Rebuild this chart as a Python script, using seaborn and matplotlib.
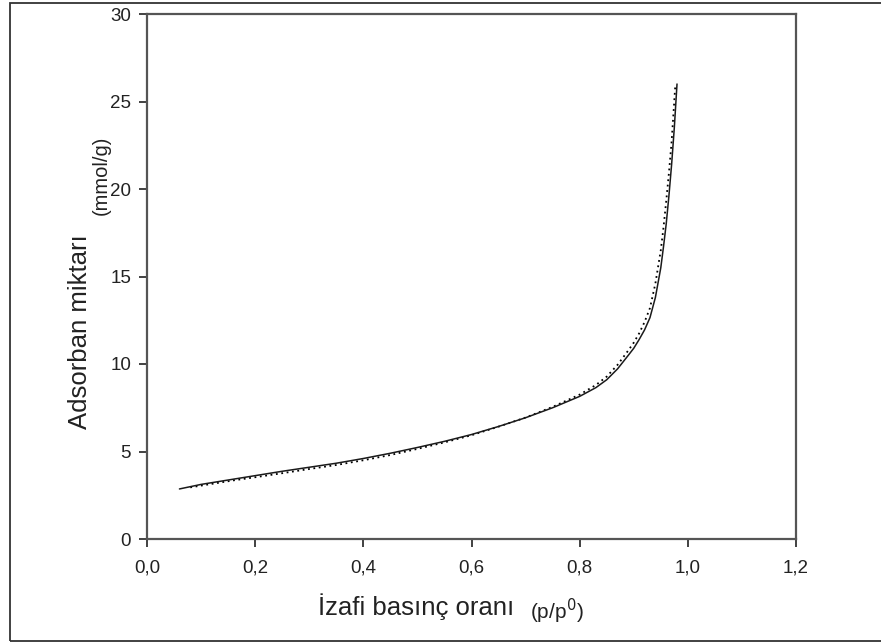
import matplotlib
matplotlib.use("Agg")
import matplotlib.pyplot as plt
from matplotlib.patches import Rectangle
import seaborn as sns
import pandas as pd

# Adsorption branch (solid line)
ads_p = [0.06, 0.10, 0.15, 0.20, 0.25, 0.30, 0.35, 0.40, 0.45, 0.50, 0.55,
         0.60, 0.65, 0.70, 0.75, 0.80, 0.83, 0.85, 0.87, 0.89, 0.90, 0.91,
         0.92, 0.93, 0.94, 0.95, 0.955, 0.96, 0.965, 0.97, 0.975, 0.98]
ads_q = [2.86, 3.12, 3.37, 3.62, 3.87, 4.10, 4.33, 4.60, 4.90, 5.23, 5.58,
         5.97, 6.43, 6.93, 7.50, 8.15, 8.65, 9.10, 9.72, 10.50, 10.90, 11.40,
         11.95, 12.65, 13.80, 15.50, 16.70, 18.00, 19.60, 21.40, 23.50, 26.00]

# Desorption branch (dotted line)
des_p = [0.08, 0.12, 0.16, 0.20, 0.25, 0.30, 0.35, 0.40, 0.45, 0.50, 0.55,
         0.60, 0.65, 0.70, 0.75, 0.80, 0.83, 0.85, 0.87, 0.89, 0.90, 0.91,
         0.92, 0.93, 0.94, 0.95, 0.955, 0.96, 0.965, 0.97, 0.977]
des_q = [2.95, 3.15, 3.35, 3.53, 3.76, 4.00, 4.23, 4.50, 4.80, 5.15, 5.52,
         5.93, 6.42, 6.94, 7.55, 8.25, 8.80, 9.28, 9.95, 10.78, 11.22, 11.75,
         12.40, 13.20, 14.60, 16.50, 17.80, 19.30, 20.90, 22.70, 26.00]

x_ticks = [0.0, 0.2, 0.4, 0.6, 0.8, 1.0, 1.2]
x_tick_labels = ["0,0", "0,2", "0,4", "0,6", "0,8", "1,0", "1,2"]
y_ticks = [0, 5, 10, 15, 20, 25, 30]

sns.set_style("white")
plt.rcParams["font.family"] = ["Liberation Sans", "DejaVu Sans"]

ads = pd.DataFrame({"p": ads_p, "q": ads_q})
des = pd.DataFrame({"p": des_p, "q": des_q})

fig = plt.figure(figsize=(8.81, 6.44), dpi=100)
ax = fig.add_axes([147 / 881, 105 / 644, 649 / 881, 525 / 644])

sns.lineplot(data=des, x="p", y="q", ax=ax, color="black", lw=1.3,
             linestyle=(0, (1, 2)), sort=False)
sns.lineplot(data=ads, x="p", y="q", ax=ax, color="#1a1a1a", lw=1.1, sort=False)

ax.set_xlim(0, 1.2)
ax.set_ylim(0, 30)
ax.set_xticks(x_ticks)
ax.set_xticklabels(x_tick_labels)
ax.set_yticks(y_ticks)
ax.set_xlabel("")
ax.set_ylabel("")

spine_col = "#555555"
for s in ax.spines.values():
    s.set_visible(True)
    s.set_color(spine_col)
    s.set_linewidth(1.6)

ax.tick_params(axis="both", direction="out", length=5.5, width=1.3,
               color="#333333", labelsize=13.5, labelcolor="#222222",
               bottom=True, left=True, top=False, right=False)
ax.tick_params(axis="x", pad=9)
ax.tick_params(axis="y", pad=6)

# Axis titles with smaller unit annotations
fig.text(318 / 881, 1 - 607 / 644, "İzafi basınç oranı", fontsize=18.5,
         color="#222222", ha="left", va="center")
fig.text(530 / 881, 1 - 611 / 644, r"(p/p$^{0}$)", fontsize=15,
         color="#222222", ha="left", va="center")
fig.text(80 / 881, 1 - 332 / 644, "Adsorban miktarı", fontsize=18.5,
         color="#222222", ha="center", va="center", rotation=90)
fig.text(101 / 881, 1 - 175 / 644, "(mmol/g)", fontsize=14.5,
         color="#222222", ha="center", va="center", rotation=90)

# Outer frame around the figure
fig.patches.append(Rectangle((10 / 881, 3 / 644), 880 / 881, 638 / 644,
                             transform=fig.transFigure, fill=False,
                             edgecolor="#333333", linewidth=1.3))

fig.savefig("out.png", dpi=100, facecolor="white")
